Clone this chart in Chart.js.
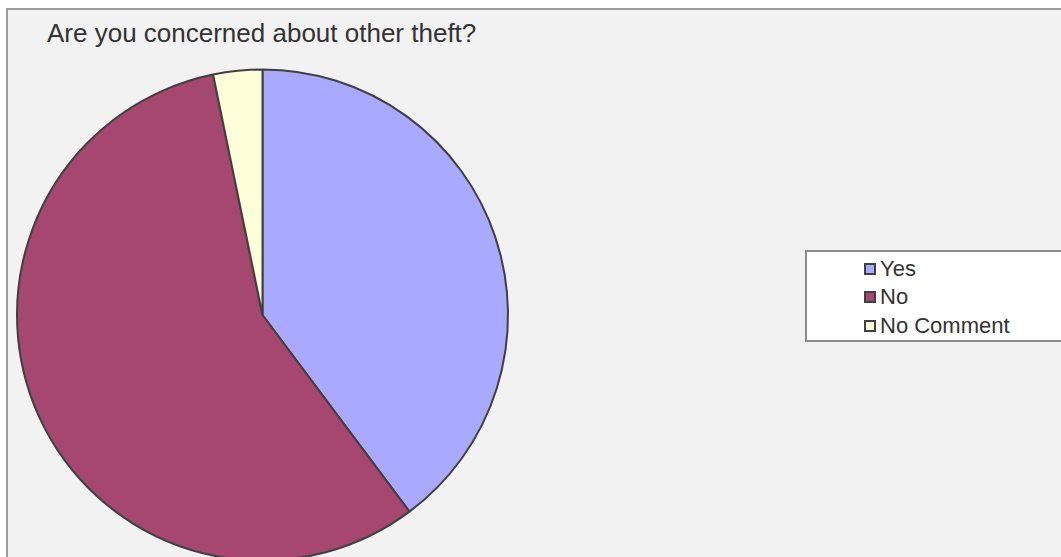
<!DOCTYPE html>
<html>
<head>
<meta charset="utf-8">
<script src="https://cdn.jsdelivr.net/npm/chart.js@4"></script>
<style>
  html, body {
    margin: 0;
    padding: 0;
    background: #ffffff;
  }
  #page {
    position: relative;
    width: 1061px;
    height: 557px;
    overflow: hidden;
    font-family: "Liberation Sans", Arial, sans-serif;
  }
  #panel {
    position: absolute;
    left: 6px;
    top: 8px;
    width: 1100px;
    height: 600px;
    background: #f2f2f2;
    border-left: 2px solid #9c9c9c;
    border-top: 2px solid #9c9c9c;
  }
  #chartTitle {
    position: absolute;
    left: 47px;
    top: 20px;
    font-size: 26px;
    line-height: 26px;
    color: #333333;
    white-space: nowrap;
  }
  #legendBox {
    position: absolute;
    left: 805px;
    top: 250px;
    width: 300px;
    padding: 3px 0 0 0;
    background: #ffffff;
    border: 2px solid #8c8c8c;
  }
  .legendItem {
    display: flex;
    align-items: center;
    height: 28.3px;
    padding-left: 57px;
    font-size: 22px;
    color: #333333;
  }
  .legendSwatch {
    width: 8px;
    height: 8px;
    border: 2px solid #404040;
    margin-right: 4px;
  }
  #pieCanvas {
    position: absolute;
    left: 0;
    top: 0;
  }
</style>
</head>
<body>
<div id="page">
  <div id="panel"></div>
  <div id="chartTitle">Are you concerned about other theft?</div>
  <canvas id="pieCanvas" width="1061" height="640"></canvas>
  <div id="legendBox"></div>
</div>

<script>
// Data
const labels = ["Yes", "No", "No Comment"];
const answers = [37, 53, 3];
const sliceColors = ["#a9a9ff", "#a5476f", "#ffffda"];

// Legend (HTML, built from the data)
const legendBox = document.getElementById("legendBox");
labels.forEach((label, i) => {
  const item = document.createElement("div");
  item.className = "legendItem";
  const swatch = document.createElement("span");
  swatch.className = "legendSwatch";
  swatch.style.background = sliceColors[i];
  item.appendChild(swatch);
  item.appendChild(document.createTextNode(label));
  legendBox.appendChild(item);
});

// Pie chart
const ctx = document.getElementById("pieCanvas").getContext("2d");
new Chart(ctx, {
  type: "pie",
  data: {
    labels: labels,
    datasets: [
      {
        data: answers,
        backgroundColor: sliceColors,
        borderColor: "#404040",
        borderWidth: 2,
      },
    ],
  },
  options: {
    responsive: false,
    animation: false,
    events: [],
    layout: {
      padding: { left: 16, right: 552, top: 68, bottom: 78 },
    },
    plugins: {
      legend: { display: false },
      title: { display: false },
      tooltip: { enabled: false },
    },
  },
});
</script>
</body>
</html>
